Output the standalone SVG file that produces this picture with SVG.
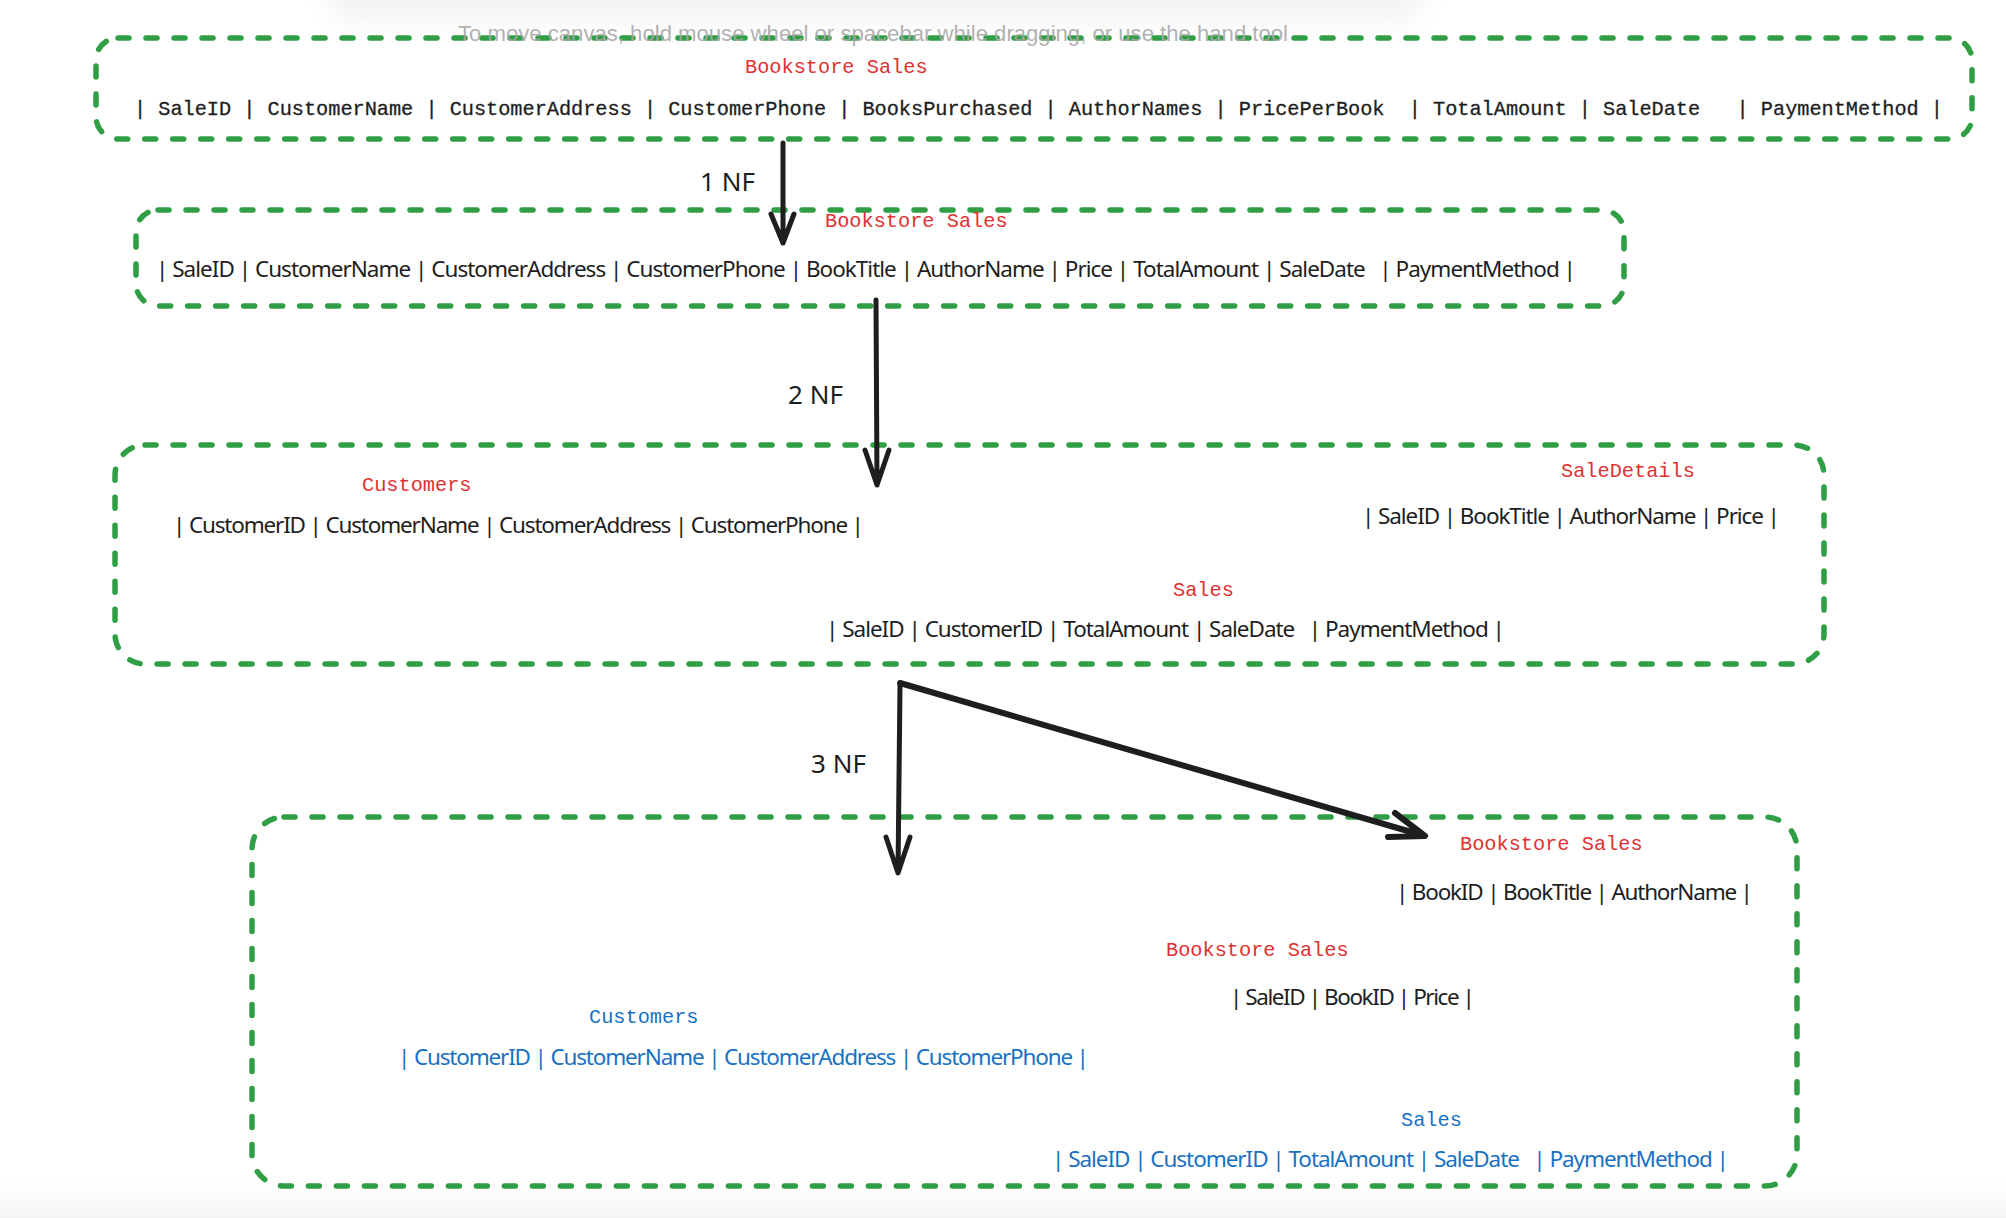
<svg xmlns="http://www.w3.org/2000/svg" width="2006" height="1218" viewBox="0 0 2006 1218" xml:space="preserve">
<style>
.box{fill:none;stroke:#2f9e44;stroke-width:5.5;stroke-dasharray:11 17;stroke-linecap:round}
.mono{font-family:"Liberation Mono","DejaVu Sans Mono",monospace;font-size:20.3px;white-space:pre}
.sans{font-family:"Noto Sans","Open Sans",sans-serif;font-size:22.5px;white-space:pre;fill:#1e1e1e}
.red{fill:#e03131}
.blue{fill:#1971c2}
.row{fill:#1e1e1e;stroke:#1e1e1e;stroke-width:0.3}
.lbl{font-family:"Noto Sans","Open Sans",sans-serif;font-size:26px;fill:#1e1e1e}
.arr{fill:none;stroke:#1e1e1e;stroke-linecap:round;stroke-linejoin:round}
.hint{font-family:"Liberation Sans","Noto Sans",sans-serif;font-size:22px;fill:#a8a8a8;fill-opacity:0.9}
</style>
<defs>
<filter id="blur" x="-20%" y="-200%" width="140%" height="500%"><feGaussianBlur stdDeviation="14"/></filter>
<linearGradient id="bottomfade" x1="0" y1="0" x2="0" y2="1"><stop offset="0" stop-color="#ffffff"/><stop offset="1" stop-color="#f5f5f5"/></linearGradient>
</defs>
<rect x="0" y="0" width="2006" height="1218" fill="#ffffff"/>
<rect x="330" y="-40" width="1090" height="60" rx="20" fill="#000" fill-opacity="0.05" filter="url(#blur)"/>
<rect x="0" y="1180" width="2006" height="38" fill="url(#bottomfade)"/>

<g id="node-1nf-source">
<rect class="box" x="96" y="38" width="1876" height="101" rx="22"/>
<text class="mono red" x="745" y="73">Bookstore Sales</text>
<text class="mono row" x="134" y="115" textLength="1809" lengthAdjust="spacing">| SaleID | CustomerName | CustomerAddress | CustomerPhone | BooksPurchased | AuthorNames | PricePerBook  | TotalAmount | SaleDate   | PaymentMethod |</text>
</g>

<g id="node-1nf">
<rect class="box" x="136" y="210" width="1488" height="96" rx="22"/>
<text class="mono red" x="825" y="227">Bookstore Sales</text>
<text class="sans" x="156" y="277" textLength="1420" lengthAdjust="spacing">| SaleID | CustomerName | CustomerAddress | CustomerPhone | BookTitle | AuthorName | Price | TotalAmount | SaleDate   | PaymentMethod |</text>
</g>

<g id="node-2nf">
<rect class="box" x="115" y="445" width="1709" height="219" rx="30"/>
<text class="mono red" x="362" y="491">Customers</text>
<text class="sans" x="173" y="533" textLength="691" lengthAdjust="spacing">| CustomerID | CustomerName | CustomerAddress | CustomerPhone |</text>
<text class="mono red" x="1561" y="477">SaleDetails</text>
<text class="sans" x="1362" y="524" textLength="418" lengthAdjust="spacing">| SaleID | BookTitle | AuthorName | Price |</text>
<text class="mono red" x="1173" y="596">Sales</text>
<text class="sans" x="826" y="637" textLength="679" lengthAdjust="spacing">| SaleID | CustomerID | TotalAmount | SaleDate   | PaymentMethod |</text>
</g>

<g id="node-3nf">
<rect class="box" x="252" y="817" width="1545" height="369" rx="32"/>
<text class="mono red" x="1460" y="850">Bookstore Sales</text>
<text class="sans" x="1396" y="900" textLength="357" lengthAdjust="spacing">| BookID | BookTitle | AuthorName |</text>
<text class="mono red" x="1166" y="956">Bookstore Sales</text>
<text class="sans" x="1230" y="1005" textLength="245" lengthAdjust="spacing">| SaleID | BookID | Price |</text>
<text class="mono blue" x="589" y="1023">Customers</text>
<text class="sans blue" x="398" y="1065" textLength="691" lengthAdjust="spacing">| CustomerID | CustomerName | CustomerAddress | CustomerPhone |</text>
<text class="mono blue" x="1401" y="1126">Sales</text>
<text class="sans blue" x="1052" y="1167" textLength="677" lengthAdjust="spacing">| SaleID | CustomerID | TotalAmount | SaleDate   | PaymentMethod |</text>
</g>

<text class="hint" x="458" y="41" textLength="830" lengthAdjust="spacingAndGlyphs">To move canvas, hold mouse wheel or spacebar while dragging, or use the hand tool</text>

<g id="connectors">
<path class="arr" stroke-width="5" d="M783 143 L783 243 M771 214 L783 243 L794 214"/>
<path class="arr" stroke-width="5" d="M876 300 L877 485 M865 450 L877 485 L889 450"/>
<path class="arr" stroke-width="5" d="M900 685 L898 873 M886 837 L898 873 L910 837"/>
<path class="arr" stroke-width="6" d="M900 683 L1425 836 M1395 813 L1425 836 L1388 837"/>
<text class="lbl" x="700" y="191">1 NF</text>
<text class="lbl" x="788" y="404">2 NF</text>
<text class="lbl" x="811" y="773">3 NF</text>
</g>
</svg>
